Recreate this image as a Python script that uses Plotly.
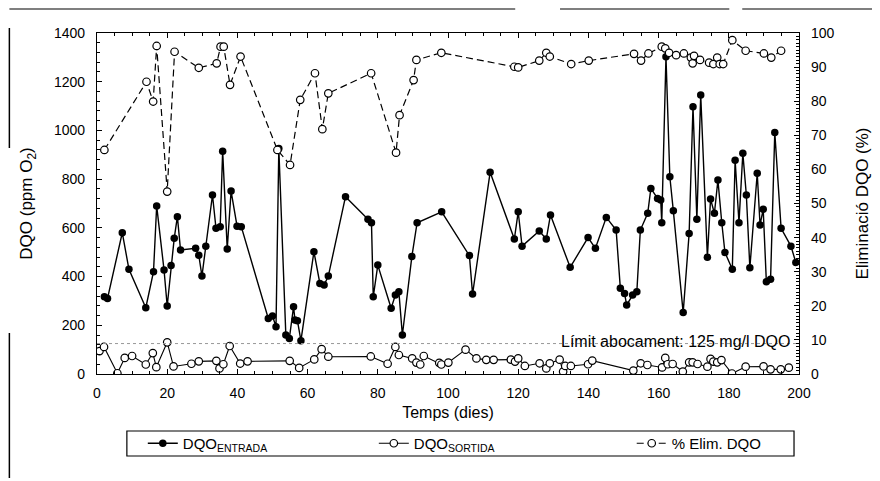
import plotly.graph_objects as go

# ---------------- data ----------------
days_in = [2.1, 3.0, 7.2, 9.1, 13.9, 16.1, 17.0, 19.1, 20.0, 21.1,
           22.0, 22.9, 23.8, 28.1, 29.0, 29.9, 31.0, 32.9, 33.9, 35.1,
           35.8, 37.1, 38.2, 39.9, 41.1, 48.8, 50.0, 51.0, 51.8, 53.8,
           54.8, 56.0, 56.4, 57.1, 58.1, 61.8, 63.5, 64.7, 65.9, 70.8,
           77.2, 78.2, 78.7, 80.0, 83.8, 85.0, 86.0, 87.0, 89.7, 91.2,
           98.2, 106.1, 107.0, 112.0, 118.9, 120.0, 121.1, 126.0, 128.0, 129.2,
           134.8, 139.9, 142.0, 145.1, 147.9, 149.1, 150.3, 150.9, 152.6, 153.8,
           154.8, 156.9, 157.8, 159.7, 160.6, 160.9, 162.1, 163.2, 164.2, 167.0,
           168.7, 169.8, 170.9, 172.0, 173.9, 174.8, 175.9, 176.9, 178.0, 178.9,
           181.0, 181.8, 182.9, 184.0, 185.0, 186.0, 188.1, 188.9, 189.8, 190.7,
           191.9, 193.1, 194.9, 197.7, 199.1]
dqo_entrada = [317, 310, 580, 430, 272, 420, 690, 427, 279, 445,
               557, 646, 509, 516, 488, 402, 525, 735, 598, 605,
               915, 513, 751, 607, 605, 228, 238, 194, 926, 160,
               146, 276, 222, 219, 137, 502, 372, 365, 402, 728,
               635, 621, 317, 447, 270, 324, 338, 160, 482, 621,
               666, 486, 328, 828, 554, 666, 525, 587, 554, 653,
               438, 560, 516, 643, 591, 352, 331, 283, 324, 338,
               591, 660, 762, 721, 714, 621, 1303, 810, 670, 252,
               577, 1097, 635, 1145, 479, 718, 660, 796, 621, 499,
               430, 878, 621, 906, 735, 436, 824, 612, 676, 379,
               389, 992, 598, 525, 458]

days_out = [0.7, 2.0, 5.8, 7.9, 10.0, 13.9, 15.9, 16.9, 20.0, 21.8,
            26.9, 29.0, 34.0, 34.9, 36.0, 37.8, 40.8, 42.9, 54.9, 57.6,
            61.9, 64.0, 65.9, 78.0, 82.8, 85.0, 86.0, 89.8, 91.0, 92.1,
            93.1, 97.5, 98.1, 100.1, 105.0, 108.1, 110.9, 113.0, 117.9, 119.1,
            120.0, 121.9, 126.1, 128.0, 129.0, 131.8, 132.8, 133.4, 135.0, 139.9,
            141.1, 152.8, 154.9, 156.8, 161.0, 161.9, 162.6, 164.0, 166.9, 168.7,
            169.7, 171.1, 173.9, 174.8, 175.6, 176.7, 177.9, 180.9, 184.8, 189.9,
            191.9, 194.8, 197.1]
dqo_sortida = [94, 111, 3, 66, 74, 39, 86, 28, 130, 31,
               42, 52, 54, 23, 40, 115, 43, 52, 54, 25,
               60, 102, 71, 72, 42, 111, 78, 64, 47, 39,
               74, 46, 39, 47, 100, 64, 58, 58, 59, 51,
               64, 33, 44, 23, 44, 59, 10, 33, 33, 40,
               55, 14, 44, 37, 27, 66, 40, 41, 10, 48,
               48, 41, 30, 62, 51, 48, 57, 2, 30, 31,
               19, 19, 26]

days_elim = [2.1, 14.1, 16.0, 17.0, 20.0, 22.1, 29.0, 34.1, 35.2, 36.1,
             37.9, 40.9, 51.4, 55.0, 57.9, 62.1, 64.2, 65.9, 78.1, 85.2,
             86.2, 90.2, 91.0, 98.1, 118.9, 120.0, 126.0, 128.0, 129.0, 135.1,
             140.1, 153.0, 155.0, 157.1, 160.9, 161.9, 163.0, 165.0, 167.2, 169.2,
             169.7, 170.1, 171.8, 174.4, 175.6, 176.7, 177.4, 178.4, 181.0, 184.8,
             190.0, 192.1, 194.9]
elim_pct = [65.7, 85.7, 79.9, 96.2, 53.5, 94.5, 89.8, 91.1, 96.0, 96.0,
            84.8, 93.1, 65.7, 61.3, 80.4, 88.2, 71.8, 82.3, 88.2, 64.9,
            75.9, 86.2, 92.1, 94.2, 90.1, 89.9, 91.9, 94.2, 93.1, 90.9,
            91.9, 93.9, 91.9, 94.0, 96.0, 95.5, 94.2, 93.5, 94.0, 92.8,
            91.1, 93.3, 92.1, 91.3, 90.9, 92.8, 90.9, 90.9, 97.9, 94.8,
            94.0, 92.8, 94.8]

limit_value = 125
x_ticks = [0, 20, 40, 60, 80, 100, 120, 140, 160, 180, 200]
left_ticks = [0, 200, 400, 600, 800, 1000, 1200, 1400]
right_ticks = [0, 10, 20, 30, 40, 50, 60, 70, 80, 90, 100]

FONT = "Arial, Liberation Sans, sans-serif"

# plot area in page pixels (page has an 8px body margin)
PX0, PX1, PY0, PY1 = 97, 802, 33, 374


def px(x):
    return (x - PX0) / (PX1 - PX0)


def py(y):
    return (PY1 - y) / (PY1 - PY0)


fig = go.Figure()

fig.add_trace(go.Scatter(
    x=days_in, y=dqo_entrada, mode="lines+markers",
    name="DQO<sub>ENTRADA</sub>", legend="legend",
    line=dict(color="black", width=1.4),
    marker=dict(symbol="circle", size=7.5, color="black"),
))
fig.add_trace(go.Scatter(
    x=days_out, y=dqo_sortida, mode="lines+markers",
    name="DQO<sub>SORTIDA</sub>", legend="legend2",
    line=dict(color="black", width=1.1),
    marker=dict(symbol="circle", size=7.5, color="white",
                line=dict(color="black", width=1.2)),
))
fig.add_trace(go.Scatter(
    x=days_elim, y=elim_pct, mode="lines+markers", yaxis="y2",
    name="% Elim. DQO", legend="legend3",
    line=dict(color="black", width=1.2, dash="7px,4px"),
    marker=dict(symbol="circle", size=7.5, color="white",
                line=dict(color="black", width=1.2)),
))

# limit line + label
fig.add_shape(type="line", xref="x", yref="y", x0=0, x1=200,
              y0=limit_value, y1=limit_value,
              line=dict(color="#999999", width=1, dash="dot"))
fig.add_annotation(x=198, y=limit_value, xref="x", yref="y",
                   xanchor="right", yanchor="middle", yshift=2,
                   text="Límit abocament: 125 mg/l DQO", showarrow=False,
                   font=dict(family=FONT, size=16, color="black"))

# legend frame
fig.add_shape(type="rect", xref="paper", yref="paper",
              x0=px(127), x1=px(797), y0=py(431), y1=py(456),
              line=dict(color="black", width=1.2), fillcolor="white",
              layer="below")

# scan artefacts around the page
for x0, x1 in [(9, 517), (562, 732), (745, 880)]:
    fig.add_shape(type="line", xref="paper", yref="paper",
                  x0=px(x0), x1=px(x1), y0=py(9), y1=py(9),
                  line=dict(color="black", width=1.2))
for y0, y1 in [(28, 148), (333, 478)]:
    fig.add_shape(type="line", xref="paper", yref="paper",
                  x0=px(9), x1=px(9), y0=py(y0), y1=py(y1),
                  line=dict(color="black", width=1.5))

axis_common = dict(
    showgrid=False, zeroline=False, showline=True, linecolor="black",
    linewidth=1.2, ticks="inside", ticklen=5, tickcolor="black",
    tickfont=dict(family=FONT, size=14, color="black"),
)

legend_common = dict(orientation="h", yanchor="middle", xanchor="left",
                     y=py(443.5), bgcolor="rgba(0,0,0,0)", borderwidth=0,
                     font=dict(family=FONT, size=15, color="black"))

fig.update_layout(
    width=872, height=473,
    margin=dict(l=89, r=78, t=25, b=107),
    paper_bgcolor="white", plot_bgcolor="white",
    font=dict(family=FONT, color="black"),
    xaxis=dict(**axis_common, range=[0, 200], tickvals=x_ticks,
               mirror="ticks", ticklabelstandoff=6,
               minor=dict(dtick=5, ticks="inside", ticklen=3, tickcolor="black"),
               title=dict(text="Temps (dies)", standoff=6,
                          font=dict(family=FONT, size=16))),
    yaxis=dict(**axis_common, range=[0, 1400], tickvals=left_ticks,
               ticklabelstandoff=8,
               minor=dict(dtick=40, ticks="inside", ticklen=3, tickcolor="black"),
               title=dict(text="DQO (ppm O<sub>2</sub>)", standoff=16,
                          font=dict(family=FONT, size=17))),
    yaxis2=dict(**axis_common, range=[0, 100], tickvals=right_ticks,
                overlaying="y", side="right", ticklabelstandoff=8,
                minor=dict(dtick=1, ticks="inside", ticklen=3, tickcolor="black"),
                title=dict(text="Eliminació DQO (%)", standoff=22,
                           font=dict(family=FONT, size=17))),
    legend=dict(**legend_common, x=px(143)),
    legend2=dict(**legend_common, x=px(375)),
    legend3=dict(**legend_common, x=px(634)),
    showlegend=True,
)

fig.write_html("out.html")
